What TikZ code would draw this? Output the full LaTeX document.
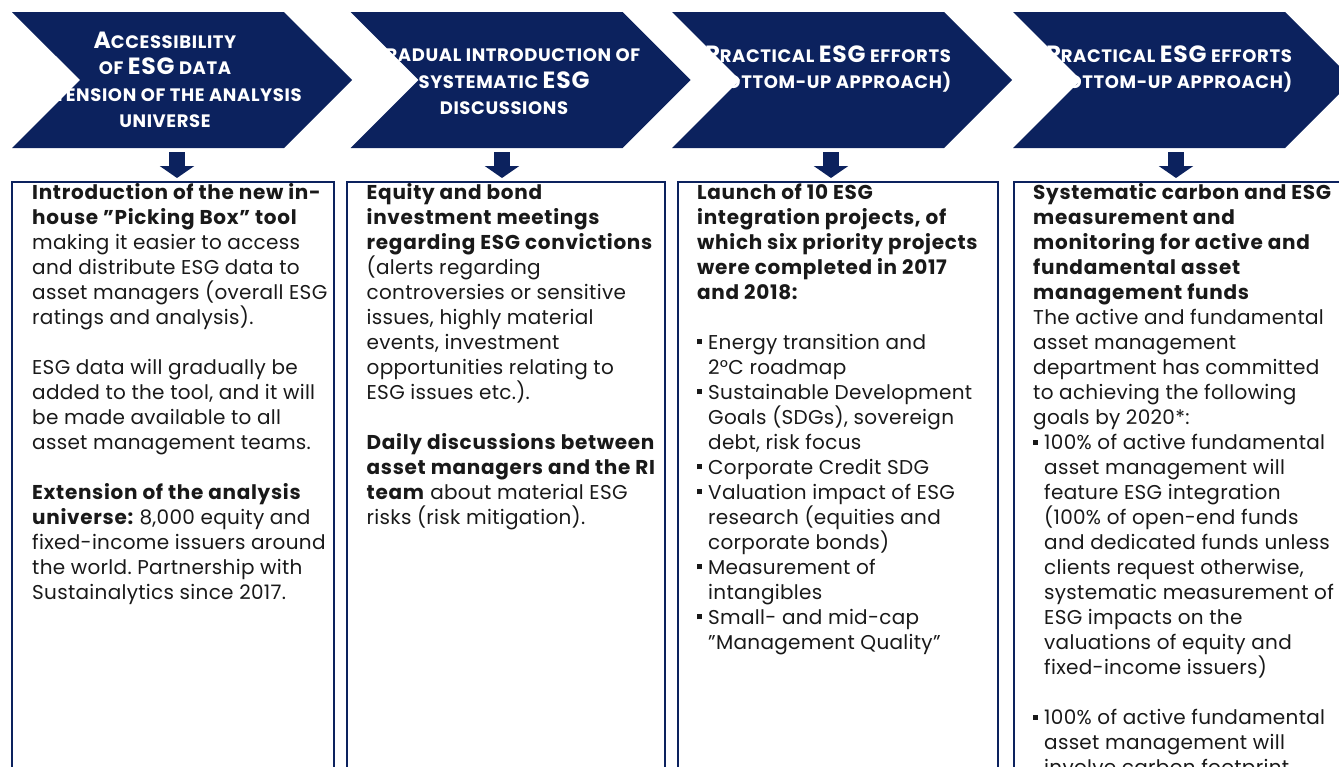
\documentclass[tikz,border=0pt]{standalone}
\usepackage{fontspec}
\setmainfont{Poppins}[LetterSpace=1.5, BoldFeatures={LetterSpace=3.5}]
\usetikzlibrary{shapes.symbols,arrows.meta,positioning}

\definecolor{navy}{RGB}{12,34,94}
\definecolor{ink}{RGB}{25,25,25}
% capital letter inside the small caps headings
\newcommand{\bigc}[1]{{\fontsize{23.5}{26.5}\selectfont #1}}
% square bullet and hanging indent
\newcommand{\sqb}{\makebox[11pt][l]{\rule[5pt]{5pt}{5pt}}}
\newcommand{\ind}{\hspace*{11pt}}

\begin{document}
\begin{tikzpicture}[x=1pt,y=1pt,
  chev/.style={signal, signal to=east, signal from=west, signal pointer angle=90,
    fill=navy, minimum width=340pt, minimum height=136pt, inner sep=0pt},
  chevtext/.style={anchor=north, align=center, text=white, inner sep=0pt,
    font=\bfseries\fontsize{18}{26.5}\selectfont\addfontfeature{LetterSpace=6},
    execute at begin node=\strut},
  panel/.style={draw=navy, line width=1.5pt, anchor=north west,
    minimum height=640pt, inner sep=0pt},
  body/.style={anchor=north west, align=left, inner sep=0pt, text=ink,
    font=\fontsize{20}{25}\selectfont\frenchspacing, execute at begin node=\strut},
  down/.style={navy, line width=16pt, -{Triangle[width=34pt,length=12pt]}}]
\clip (0,0) rectangle (1339,-766);

% chevrons along the top
\foreach \x [count=\i] in {182,520.5,842,1183}
  \node[chev] (c\i) at (\x,-80) {};

\node[chevtext] (h1) at (165,-31.5) {\bigc{A}CCESSIBILITY\\OF \bigc{ESG} DATA\\
  \bigc{E}XTENSION OF THE ANALYSIS\\UNIVERSE};
\node[chevtext] (h2) at (504,-45) {\bigc{G}RADUAL INTRODUCTION OF\\
  SYSTEMATIC \bigc{ESG}\\DISCUSSIONS};
\node[chevtext] (h3) at (828,-45.5) {\bigc{P}RACTICAL \bigc{ESG} EFFORTS\\
  (BOTTOM-UP APPROACH)};
\node[chevtext] (h4) at (1169,-45.5) {\bigc{P}RACTICAL \bigc{ESG} EFFORTS\\
  (BOTTOM-UP APPROACH)};

% panels below
\node[panel, minimum width=322pt] (p1) at (11,-181) {};
\node[panel, minimum width=318pt] (p2) at (346,-181) {};
\node[panel, minimum width=320pt] (p3) at (677,-181) {};
\node[panel, minimum width=340pt] (p4) at (1013,-181) {};

% arrows chevron -> panel
\foreach \ax [count=\i] in {177,502,831,1176} {
  \coordinate (a\i) at (\ax,-178);
  \draw[down] ([yshift=-4pt]c\i.south -| a\i) -- (a\i);
}

\node[body] (t1) at ([shift={(21,-2.5)}]p1.north west) {%
  \textbf{Introduction of the new in-}\\
  \textbf{house "Picking Box" tool}\\
  making it easier to access\\
  and distribute ESG data to\\
  asset managers (overall ESG\\
  ratings and analysis).\\[25pt]
  ESG data will gradually be\\
  added to the tool, and it will\\
  be made available to all\\
  asset management teams.\\[25pt]
  \textbf{Extension of the analysis}\\
  \textbf{universe:} 8,000 equity and\\
  fixed-income issuers around\\
  the world. Partnership with\\
  Sustainalytics since 2017.};

\node[body] (t2) at ([shift={(20.5,-2.5)}]p2.north west) {%
  \textbf{Equity and bond}\\
  \textbf{investment meetings}\\
  \textbf{regarding ESG convictions}\\
  (alerts regarding\\
  controversies or sensitive\\
  issues, highly material\\
  events, investment\\
  opportunities relating to\\
  ESG issues etc.).\\[25pt]
  \textbf{Daily discussions between}\\
  \textbf{asset managers and the RI}\\
  \textbf{team} about material ESG\\
  risks (risk mitigation).};

\node[body] (t3) at ([shift={(20,-2.5)}]p3.north west) {%
  \textbf{Launch of 10 ESG}\\
  \textbf{integration projects, of}\\
  \textbf{which six priority projects}\\
  \textbf{were completed in 2017}\\
  \textbf{and 2018:}\\[25pt]
  \sqb Energy transition and\\
  \ind 2°C roadmap\\
  \sqb Sustainable Development\\
  \ind Goals (SDGs), sovereign\\
  \ind debt, risk focus\\
  \sqb Corporate Credit SDG\\
  \sqb Valuation impact of ESG\\
  \ind research (equities and\\
  \ind corporate bonds)\\
  \sqb Measurement of\\
  \ind intangibles\\
  \sqb Small- and mid-cap\\
  \ind "Management Quality"};

\node[body] (t4) at ([shift={(20,-2.5)}]p4.north west) {%
  \textbf{Systematic carbon and ESG}\\
  \textbf{measurement and}\\
  \textbf{monitoring for active and}\\
  \textbf{fundamental asset}\\
  \textbf{management funds}\\
  The active and fundamental\\
  asset management\\
  department has committed\\
  to achieving the following\\
  goals by 2020*:\\
  \sqb 100\% of active fundamental\\
  \ind asset management will\\
  \ind feature ESG integration\\
  \ind (100\% of open-end funds\\
  \ind and dedicated funds unless\\
  \ind clients request otherwise,\\
  \ind systematic measurement of\\
  \ind ESG impacts on the\\
  \ind valuations of equity and\\
  \ind fixed-income issuers)\\[25pt]
  \sqb 100\% of active fundamental\\
  \ind asset management will\\
  \ind involve carbon footprint};
\end{tikzpicture}
\end{document}
